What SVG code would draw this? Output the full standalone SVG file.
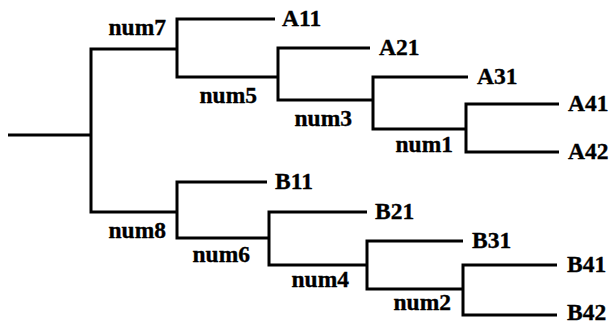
<svg xmlns="http://www.w3.org/2000/svg" width="612" height="324" viewBox="0 0 612 324">
  <style>
    .edge { fill: none; stroke: #000; stroke-width: 3; stroke-linejoin: miter; stroke-linecap: butt; }
    .lbl { font-family: "Liberation Serif", "Times New Roman", serif; font-weight: bold; font-size: 23.5px; fill: #000; stroke: #000; stroke-width: 0.35; }
    .inner { text-anchor: end; }
  </style>
  <rect width="612" height="324" fill="#fff"/>

  <!-- tree branches -->
  <g id="connectors">
    <path class="edge" d="M8 135 H91"/>
    <path class="edge" d="M177 49 H91 V212 H177"/>
    <!-- upper clade -->
    <path class="edge" d="M275 19 H177 V77 H278"/>
    <path class="edge" d="M370 48 H278 V100 H373"/>
    <path class="edge" d="M468 77 H373 V129 H466"/>
    <path class="edge" d="M559 104 H466 V152 H559"/>
    <!-- lower clade -->
    <path class="edge" d="M267 182 H177 V238 H269"/>
    <path class="edge" d="M367 212 H269 V265 H367"/>
    <path class="edge" d="M463 241 H367 V289 H463"/>
    <path class="edge" d="M557 265 H463 V315 H557"/>
  </g>

  <!-- internal nodes -->
  <g id="num7"><text class="lbl inner" x="166" y="35">num7</text></g>
  <g id="num5"><text class="lbl inner" x="257" y="103">num5</text></g>
  <g id="num3"><text class="lbl inner" x="352" y="126">num3</text></g>
  <g id="num1"><text class="lbl inner" x="453" y="152">num1</text></g>
  <g id="num8"><text class="lbl inner" x="166" y="238">num8</text></g>
  <g id="num6"><text class="lbl inner" x="250" y="262">num6</text></g>
  <g id="num4"><text class="lbl inner" x="349" y="287">num4</text></g>
  <g id="num2"><text class="lbl inner" x="451" y="310">num2</text></g>

  <!-- leaves -->
  <g id="A11"><text class="lbl" x="282" y="26">A11</text></g>
  <g id="A21"><text class="lbl" x="379" y="55">A21</text></g>
  <g id="A31"><text class="lbl" x="477" y="84">A31</text></g>
  <g id="A41"><text class="lbl" x="568" y="111">A41</text></g>
  <g id="A42"><text class="lbl" x="568" y="159">A42</text></g>
  <g id="B11"><text class="lbl" x="275" y="189">B11</text></g>
  <g id="B21"><text class="lbl" x="375" y="219">B21</text></g>
  <g id="B31"><text class="lbl" x="472" y="248">B31</text></g>
  <g id="B41"><text class="lbl" x="567" y="272">B41</text></g>
  <g id="B42"><text class="lbl" x="567" y="320">B42</text></g>
</svg>
